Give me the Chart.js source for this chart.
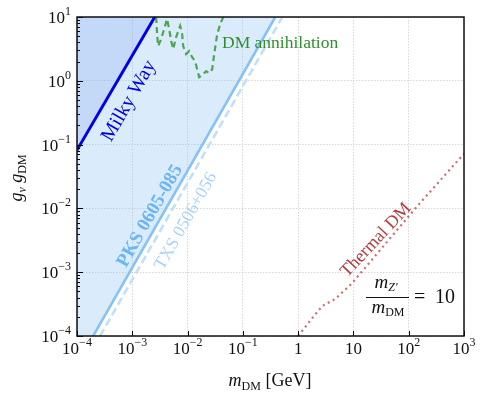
<!DOCTYPE html>
<html><head><meta charset="utf-8">
<script src="https://cdn.jsdelivr.net/npm/chart.js@4"></script>
<style>html,body{margin:0;padding:0;background:#fff}</style>
</head><body>
<canvas id="c" width="488" height="393"></canvas>
<script>
// ---- data ----
const xTicks = [1e-4, 1e-3, 1e-2, 1e-1, 1, 10, 100, 1000];
const xTickLabels = [["10","−4"],["10","−3"],["10","−2"],["10","−1"],["1",""],["10",""],["10","2"],["10","3"]];
const yTicks = [1e-4, 1e-3, 1e-2, 1e-1, 1, 10];
const yTickLabels = [["10","−4"],["10","−3"],["10","−2"],["10","−1"],["10","0"],["10","1"]];

const milkyWayX = [1e-4, 2.55e-3];
const milkyWayY = [0.082, 10];

const pksX = [1e-4, 0.386];
const pksY = [3.6e-5, 10];

const txsX = [2.61e-4, 0.518];
const txsY = [1e-4, 10];

const dmAnnX = [2.70e-3, 2.81e-3, 2.93e-3, 3.33e-3, 3.77e-3, 4.27e-3, 4.64e-3, 5.05e-3, 5.49e-3, 6.21e-3, 7.34e-3, 7.98e-3, 8.32e-3, 9.44e-3, 1.07e-2, 1.21e-2, 1.37e-2, 1.49e-2, 1.62e-2, 1.84e-2, 2.17e-2, 2.46e-2, 2.79e-2, 3.03e-2, 3.44e-2, 3.90e-2, 4.42e-2];
const dmAnnY = [10, 5.41, 3.50, 4.51, 6.47, 9.30, 6.47, 4.20, 3.14, 4.85, 7.22, 5.41, 3.50, 2.62, 2.92, 2.35, 2.03, 1.52, 1.14, 1.22, 1.42, 1.32, 1.52, 2.62, 5.41, 7.77, 10];

const thermalX = [1, 1.81, 2.74, 4.72, 9.46, 142, 1000];
const thermalY = [1.0e-4, 1.92e-4, 2.96e-4, 3.82e-4, 6.73e-4, 0.0108, 0.072];

const pts = (xs, ys) => xs.map((x, i) => ({x: x, y: ys[i]}));

const SERIF = '"Liberation Serif", "Times New Roman", serif';

function rich(ctx, segs, x, y, align) {
  let w = 0;
  segs.forEach(s => { ctx.font = s.f; s.w = ctx.measureText(s.t).width + (s.dx || 0); w += s.w; });
  let sx = align === 'center' ? x - w / 2 : (align === 'right' ? x - w : x);
  segs.forEach(s => { ctx.font = s.f; ctx.fillText(s.t, sx, y + (s.dy || 0)); sx += s.w; });
  return w;
}

function rotText(ctx, text, cx, cy, deg, font, color) {
  ctx.save();
  ctx.translate(cx, cy);
  ctx.rotate(deg * Math.PI / 180);
  ctx.font = font; ctx.fillStyle = color;
  ctx.textAlign = 'center'; ctx.textBaseline = 'middle';
  ctx.fillText(text, 0, 0);
  ctx.restore();
}

const decor = {
  id: 'decor',
  afterDraw(chart) {
    const ctx = chart.ctx, ca = chart.chartArea, xs = chart.scales.x, ys = chart.scales.y;
    ctx.save();
    // ticks
    ctx.strokeStyle = '#000'; ctx.lineWidth = 1;
    ctx.beginPath();
    xTicks.forEach(v => { const p = Math.round(xs.getPixelForValue(v)) + 0.5; ctx.moveTo(p, ca.bottom); ctx.lineTo(p, ca.bottom - 5); });
    yTicks.forEach(v => { const p = Math.round(ys.getPixelForValue(v)) + 0.5; ctx.moveTo(ca.left, p); ctx.lineTo(ca.left + 6, p); });
    for (let i = 0; i < yTicks.length - 1; i++) {
      for (let m = 2; m <= 9; m++) {
        const p = Math.round(ys.getPixelForValue(yTicks[i] * m)) + 0.5;
        ctx.moveTo(ca.left, p); ctx.lineTo(ca.left + 3, p);
      }
    }
    ctx.stroke();
    // frame
    ctx.lineWidth = 1.5; ctx.strokeStyle = '#111';
    ctx.strokeRect(ca.left, ca.top, ca.right - ca.left, ca.bottom - ca.top);

    // tick labels
    ctx.fillStyle = '#111'; ctx.textBaseline = 'alphabetic'; ctx.textAlign = 'left';
    const bf = '17px ' + SERIF, ef = '12px ' + SERIF;
    xTicks.forEach((v, i) => {
      const p = xs.getPixelForValue(v);
      const segs = [{t: xTickLabels[i][0], f: bf}];
      if (xTickLabels[i][1]) segs.push({t: xTickLabels[i][1], f: ef, dy: -8});
      rich(ctx, segs, p, 354, 'center');
    });
    yTicks.forEach((v, i) => {
      const p = ys.getPixelForValue(v);
      const segs = [{t: yTickLabels[i][0], f: bf}, {t: yTickLabels[i][1], f: ef, dy: -8}];
      rich(ctx, segs, 71, p + 6, 'right');
    });

    // axis titles
    const it18 = 'italic 18px ' + SERIF, r18 = '18px ' + SERIF, r12 = '12px ' + SERIF, it12 = 'italic 12px ' + SERIF;
    rich(ctx, [{t: 'm', f: it18}, {t: 'DM', f: r12, dy: 4}, {t: ' [GeV]', f: r18}], 270, 386, 'center');
    ctx.save();
    ctx.translate(22, 178); ctx.rotate(-Math.PI / 2);
    rich(ctx, [{t: 'g', f: it18}, {t: 'ν', f: it12, dy: 4}, {t: ' ', f: r18}, {t: 'g', f: it18}, {t: 'DM', f: r12, dy: 4}], 0, 0, 'center');
    ctx.restore();

    // annotations
    rotText(ctx, 'Milky Way', 129, 101, -60, '20px ' + SERIF, '#0000e0');
    rotText(ctx, 'PKS 0605-085', 150, 216, -60.3, 'bold 19px ' + SERIF, '#6cb4f4');
    rotText(ctx, 'TXS 0506+056', 186, 221, -60.3, '17.5px ' + SERIF, '#a9d2f7');
    rotText(ctx, 'Thermal DM', 376, 240, -47, '18px ' + SERIF, '#b33a3a');
    ctx.fillStyle = '#2f8f2f'; ctx.font = '17.5px ' + SERIF; ctx.textAlign = 'left'; ctx.textBaseline = 'alphabetic';
    ctx.fillText('DM annihilation', 222, 48);

    // formula m_Z'/m_DM = 10
    ctx.fillStyle = '#111';
    rich(ctx, [{t: 'm', f: 'italic 19px ' + SERIF}, {t: 'Z′', f: it12, dy: 3}], 386, 288, 'center');
    rich(ctx, [{t: 'm', f: 'italic 19px ' + SERIF}, {t: 'DM', f: r12, dy: 3}], 388, 313, 'center');
    ctx.lineWidth = 1; ctx.strokeStyle = '#111';
    ctx.beginPath(); ctx.moveTo(366, 297.5); ctx.lineTo(409, 297.5); ctx.stroke();
    ctx.font = '20px ' + SERIF; ctx.textAlign = 'left';
    ctx.fillText('=', 414, 303);
    ctx.fillText('10', 435, 303);
    ctx.restore();
  }
};

const gridOpts = {color: '#cdcdcd', lineWidth: 0.8, drawTicks: false};
new Chart(document.getElementById('c'), {
  type: 'line',
  data: {
    datasets: [
      {label: 'Milky Way', data: pts(milkyWayX, milkyWayY), borderColor: '#0000e6', borderWidth: 3, fill: 'end', backgroundColor: 'rgba(110,135,235,0.2)', order: 1},
      {label: 'DM annihilation', data: pts(dmAnnX, dmAnnY), borderColor: 'rgba(55,150,55,0.85)', borderWidth: 2.2, borderDash: [6, 4], fill: false, order: 0},
      {label: 'PKS 0605-085', data: pts(pksX, pksY), borderColor: '#86c2f6', borderWidth: 2.6, fill: 'end', backgroundColor: 'rgba(150,200,245,0.35)', order: 3},
      {label: 'TXS 0506+056', data: pts(txsX, txsY), borderColor: '#c2dffa', borderWidth: 2.6, borderDash: [8, 4], fill: false, order: 2},
      {label: 'Thermal DM', data: pts(thermalX, thermalY), borderColor: 'rgba(190,85,85,0.85)', borderWidth: 2.2, borderDash: [2, 3.6], fill: false, order: 0}
    ]
  },
  options: {
    responsive: false, animation: false,
    elements: {point: {radius: 0}, line: {tension: 0}},
    plugins: {legend: {display: false}, tooltip: {enabled: false}},
    layout: {padding: {top: 17, right: 24, left: 0, bottom: 0}},
    scales: {
      x: {type: 'logarithmic', min: 1e-4, max: 1e3, ticks: {display: false}, grid: gridOpts,
          border: {display: false, dash: [1.5, 1.5]},
          afterBuildTicks(s) { s.ticks = xTicks.map(v => ({value: v})); },
          afterFit(s) { s.height = 57; }},
      y: {type: 'logarithmic', min: 1e-4, max: 10, ticks: {display: false}, grid: gridOpts,
          border: {display: false, dash: [1.5, 1.5]},
          afterBuildTicks(s) { s.ticks = yTicks.map(v => ({value: v})); },
          afterFit(s) { s.width = 77; }}
    }
  },
  plugins: [decor]
});
</script>
</body></html>
